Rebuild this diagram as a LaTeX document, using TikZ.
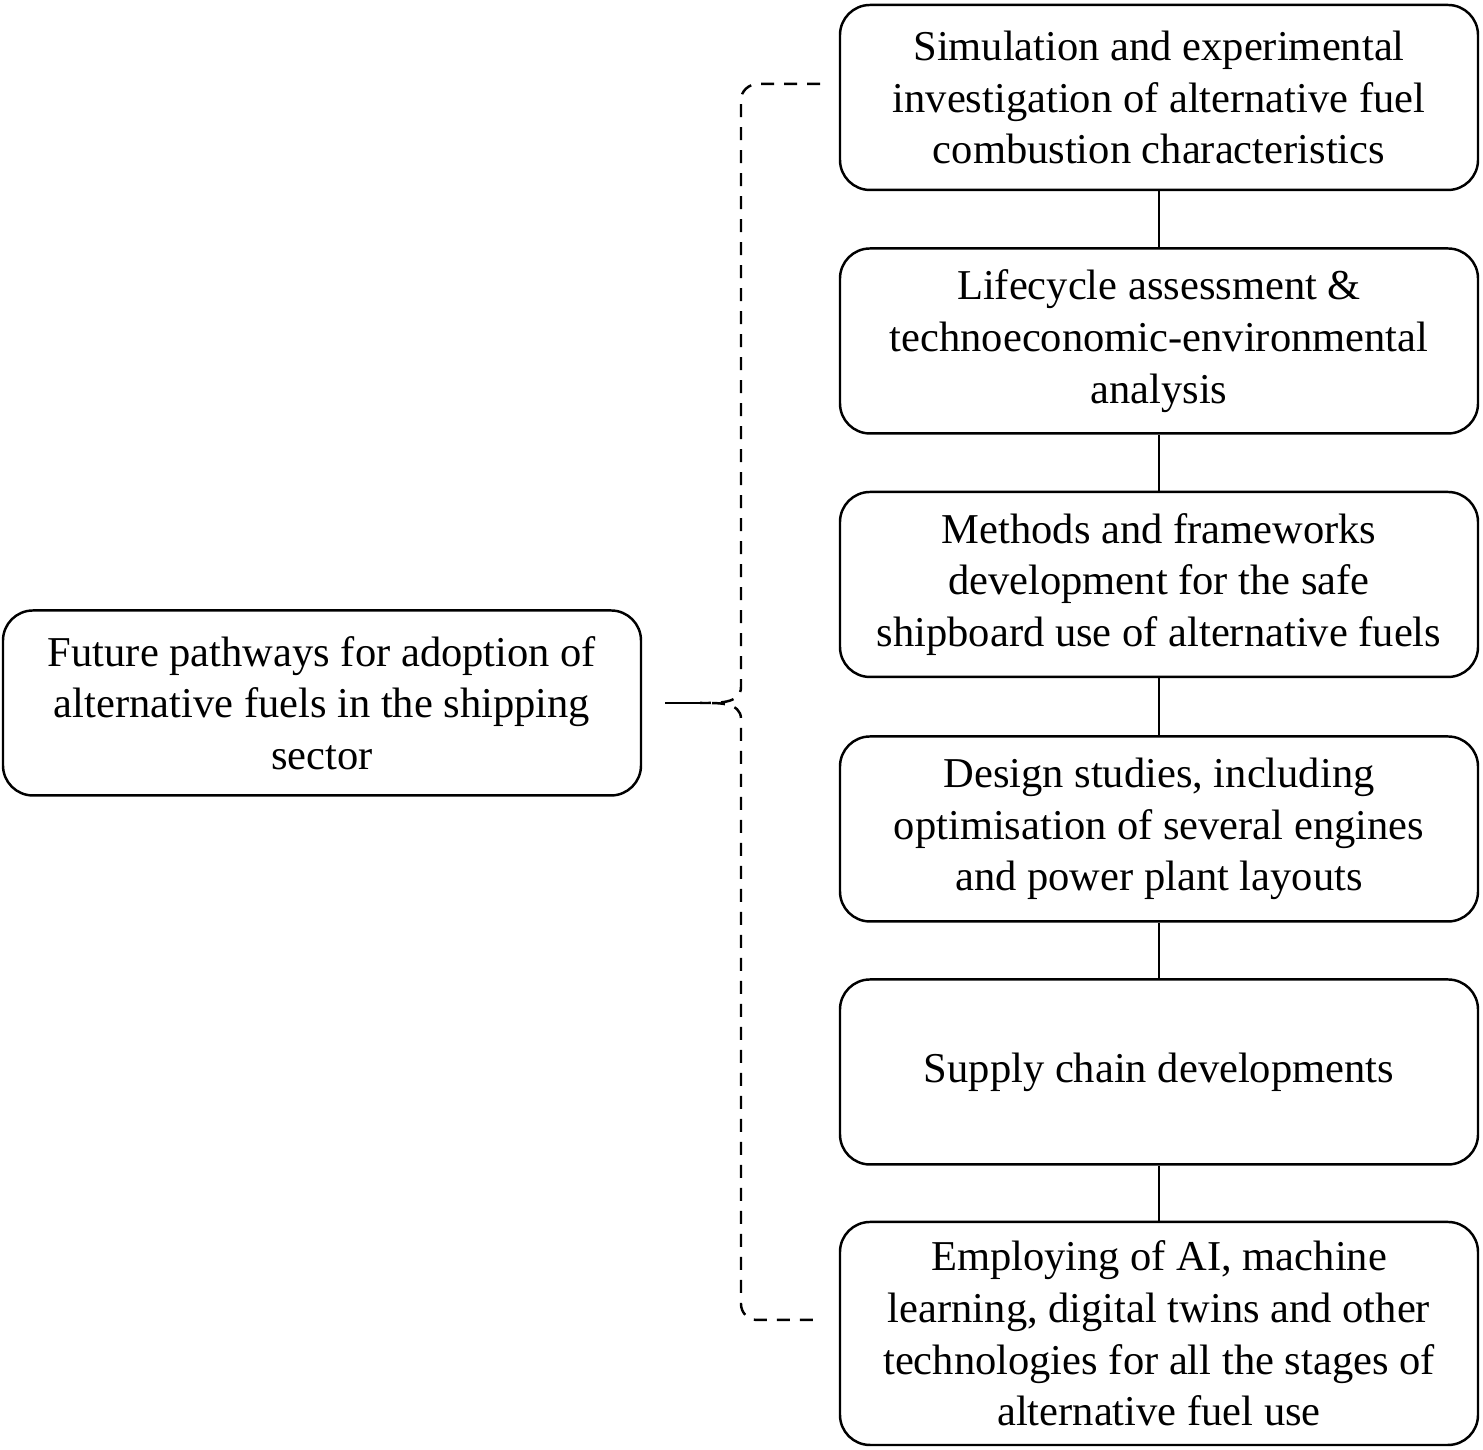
\documentclass[tikz,border=0pt]{standalone}
\usepackage{fontspec}
\setmainfont{Liberation Serif}
\usepackage{tikz}
\tikzset{path box/.style={draw, line width=0.7pt, rounded corners=3mm, align=center, inner sep=0pt, minimum height=18.5mm, minimum width=63.8mm, font=\fontsize{12.1}{14.7}\selectfont}}
\tikzset{brace line/.style={line width=0.7pt, dash pattern=on 1.3mm off 1mm}}

\begin{document}
\begin{tikzpicture}
\useasboundingbox (0,0) rectangle (14.83,14.50);

\node[path box] (fut) at (3.22,7.47) {Future pathways for adoption of\\alternative fuels in the shipping\\sector};

\node[path box] (s1) at (11.59,13.525) {Simulation and experimental\\investigation of alternative fuel\\combustion characteristics};
\node[path box] (s2) at (11.59,11.09) {Lifecycle assessment \&\\technoeconomic-environmental\\analysis};
\node[path box] (s3) at (11.59,8.655) {Methods and frameworks\\development for the safe\\shipboard use of alternative fuels};
\node[path box] (s4) at (11.59,6.21) {Design studies, including\\optimisation of several engines\\and power plant layouts};
\node[path box] (s5) at (11.59,3.78) {Supply chain developments};
\node[path box, minimum height=22.3mm] (s6) at (11.59,1.165) {Employing of AI, machine\\learning, digital twins and other\\technologies for all the stages of\\alternative fuel use};

\foreach \a/\b in {s1/s2, s2/s3, s3/s4, s4/s5, s5/s6}
	\draw[line width=0.7pt] (\a) -- (\b);

% brace
\coordinate (braceTop) at (8.20,13.66);
\coordinate (braceBot) at (8.20,1.30);
\coordinate (braceTip) at (7.00,7.47);
\coordinate (stemStart) at (6.65,7.47);
\draw[brace line] (braceTop) -- (7.58,13.66) to[out=180,in=90] (7.41,13.50) -- (7.41,7.63) to[out=-90,in=0] (braceTip) to[out=0,in=90] (7.41,7.31) -- (7.41,1.46) to[out=-90,in=180] (7.57,1.30) -- (braceBot);
\draw[line width=0.7pt] (stemStart) -- (braceTip);

\end{tikzpicture}
\end{document}
